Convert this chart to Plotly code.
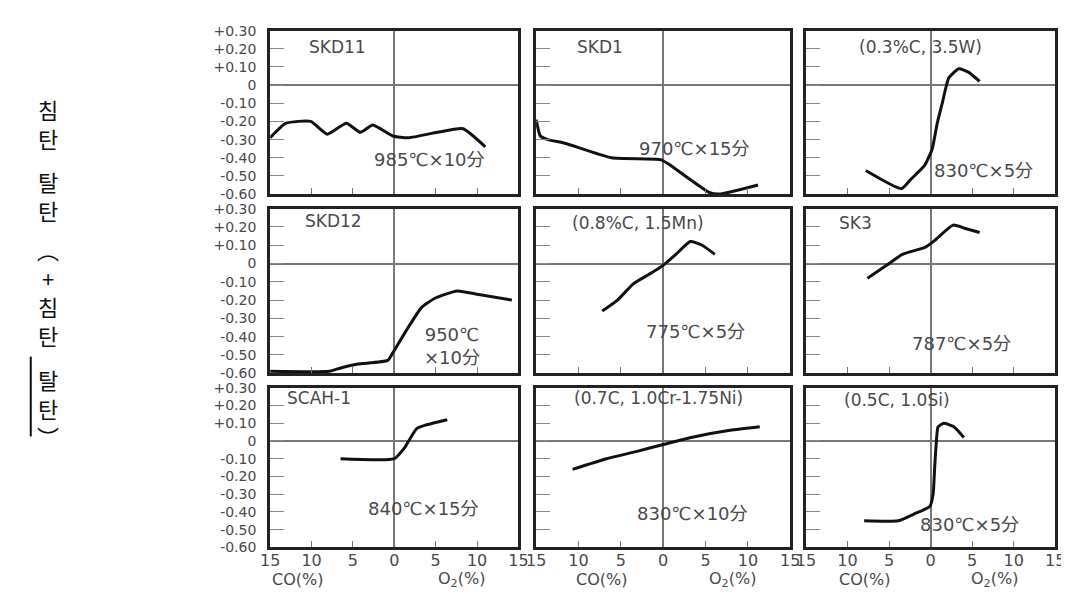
import plotly.graph_objects as go
from plotly.subplots import make_subplots

# ---------------- data (x: CO(%) negative side, O2(%) positive side) ----------------
titles = ["SKD11", "SKD1", "(0.3%C, 3.5W)",
          "SKD12", "(0.8%C, 1.5Mn)", "SK3",
          "SCAH-1", "(0.7C, 1.0Cr-1.75Ni)", "(0.5C, 1.0Si)"]
conditions = ["985℃×10分", "970℃×15分", "830℃×5分",
              "950℃<br>×10分", "775℃×5分", "787℃×5分",
              "840℃×15分", "830℃×10分", "830℃×5分"]

skd11_x = [-15, -13.1, -10.1, -8.1, -5.8, -4.1, -2.6, -0.2, 1.7, 5.2, 8.3, 11.0]
skd11_y = [-0.29, -0.21, -0.20, -0.27, -0.21, -0.26, -0.22, -0.28, -0.29, -0.26, -0.24, -0.34]

skd1_x = [-15, -14.5, -13.6, -11.6, -6.1, -0.3, 0.8, 5.4, 6.6, 11.2]
skd1_y = [-0.19, -0.28, -0.30, -0.32, -0.40, -0.41, -0.44, -0.59, -0.60, -0.55]

w35_x = [-7.8, -3.5, -2.4, -0.7, 0.2, 0.8, 1.4, 2.2, 3.4, 4.6, 5.9]
w35_y = [-0.47, -0.57, -0.52, -0.44, -0.35, -0.21, -0.10, 0.04, 0.09, 0.07, 0.02]

skd12_x = [-15, -7.9, -6.4, -4.4, -0.8, -0.2, 1.4, 3.3, 4.9, 7.6, 10.2, 14.2]
skd12_y = [-0.59, -0.59, -0.57, -0.55, -0.53, -0.49, -0.37, -0.24, -0.19, -0.15, -0.17, -0.20]

mn15_x = [-7.2, -5.4, -3.5, -1.7, 0.0, 1.5, 3.2, 4.6, 6.1]
mn15_y = [-0.26, -0.20, -0.11, -0.06, -0.01, 0.05, 0.12, 0.10, 0.05]

sk3_x = [-7.6, -5.3, -3.4, -0.6, 0.6, 2.7, 4.3, 5.9]
sk3_y = [-0.08, -0.01, 0.05, 0.09, 0.13, 0.21, 0.19, 0.17]

scah_x = [-6.5, 0.0, 1.2, 2.7, 3.8, 6.4]
scah_y = [-0.10, -0.10, -0.04, 0.07, 0.09, 0.12]

crni_x = [-10.7, -6.7, -3.2, 0.0, 3.3, 7.9, 11.4]
crni_y = [-0.16, -0.10, -0.06, -0.02, 0.02, 0.06, 0.08]

si10_x = [-8.0, -3.9, -1.9, -0.1, 0.3, 0.5, 0.7, 0.9, 1.6, 2.8, 4.0]
si10_y = [-0.45, -0.45, -0.41, -0.37, -0.30, -0.14, 0.0, 0.08, 0.10, 0.08, 0.02]

series = [(skd11_x, skd11_y), (skd1_x, skd1_y), (w35_x, w35_y),
          (skd12_x, skd12_y), (mn15_x, mn15_y), (sk3_x, sk3_y),
          (scah_x, scah_y), (crni_x, crni_y), (si10_x, si10_y)]

title_pos = [(-6.9, 0.21), (-7.5, 0.21), (-1.2, 0.21),
             (-7.3, 0.23), (-3.0, 0.22), (-9.0, 0.22),
             (-9.1, 0.24), (-0.5, 0.24), (-4.1, 0.23)]
cond_pos = [(4.3, -0.41), (3.7, -0.35), (6.4, -0.47),
            (7.0, -0.45), (3.8, -0.37), (3.7, -0.44),
            (3.5, -0.38), (3.5, -0.41), (4.7, -0.47)]

y_tickvals = [0.3, 0.2, 0.1, 0.0, -0.1, -0.2, -0.3, -0.4, -0.5, -0.6]
y_ticktext = ["+0.30", "+0.20", "+0.10", "0", "-0.10", "-0.20", "-0.30", "-0.40", "-0.50", "-0.60"]
x_tickvals = [-15, -10, -5, 0, 5, 10, 15]
x_ticktext = ["15", "10", "5", "0", "5", "10", "15"]

# ---------------- layout geometry (pixels) ----------------
W, H = 1069, 597
col_px = [(257, 510), (528, 787), (803, 1057)]
row_px = [(15, 183), (198, 367), (382, 546)]

def px_x(p):
    return p / W

def px_y(p):
    return 1 - p / H

fig = make_subplots(rows=3, cols=3)

FONT = "DejaVu Sans, Noto Sans CJK JP, sans-serif"
TXT = "#4a4a4a"

annotations = []
for i in range(9):
    r, c = divmod(i, 3)
    n = i + 1
    xs, ys = series[i]
    fig.add_trace(go.Scatter(x=xs, y=ys, mode="lines",
                             line=dict(color="#111111", width=3, shape="spline", smoothing=0.5),
                             showlegend=False, hoverinfo="skip"),
                  row=r + 1, col=c + 1)
    xa = "xaxis" if n == 1 else f"xaxis{n}"
    ya = "yaxis" if n == 1 else f"yaxis{n}"
    x0, x1 = col_px[c]
    y0, y1 = row_px[r]
    fig.layout[xa].update(
        domain=[px_x(x0), px_x(x1)], range=[-15, 15],
        showgrid=False, zeroline=True, zerolinecolor="#777777", zerolinewidth=2,
        showline=True, mirror=True, linecolor="#222222", linewidth=3,
        ticks="inside", ticklen=6, tickcolor="#777777", tickwidth=1,
        tickvals=x_tickvals, ticktext=x_ticktext,
        showticklabels=(r == 2),
        ticklabelstandoff=-4,
        tickfont=dict(family=FONT, size=16, color=TXT),
    )
    fig.layout[ya].update(
        domain=[px_y(y1), px_y(y0)], range=[-0.6, 0.3],
        showgrid=False, zeroline=True, zerolinecolor="#777777", zerolinewidth=2,
        showline=True, mirror=True, linecolor="#222222", linewidth=3,
        ticks="inside", ticklen=14, tickcolor="#888888", tickwidth=1,
        tickvals=y_tickvals, ticktext=y_ticktext,
        showticklabels=(c == 0),
        ticklabelstandoff=8,
        tickfont=dict(family=FONT, size=14, color=TXT),
    )
    xref = "x" if n == 1 else f"x{n}"
    yref = "y" if n == 1 else f"y{n}"
    tx, ty = title_pos[i]
    annotations.append(dict(x=tx, y=ty, xref=xref, yref=yref, text=titles[i],
                            showarrow=False, xanchor="center", yanchor="middle",
                            font=dict(family=FONT, size=17, color=TXT)))
    cx, cy = cond_pos[i]
    annotations.append(dict(x=cx, y=cy, xref=xref, yref=yref, text=conditions[i],
                            showarrow=False, xanchor="center", yanchor="middle",
                            font=dict(family=FONT, size=18, color=TXT)))

# bottom axis titles
co_px = [285, 595, 863]
o2_px = [452, 728, 995]
for c in range(3):
    annotations.append(dict(x=px_x(co_px[c]), y=px_y(579), xref="paper", yref="paper",
                            text="CO(%)", showarrow=False, xanchor="center", yanchor="middle",
                            font=dict(family=FONT, size=16, color=TXT)))
    annotations.append(dict(x=px_x(o2_px[c]), y=px_y(579), xref="paper", yref="paper",
                            text="O<sub>2</sub>(%)", showarrow=False, xanchor="center", yanchor="middle",
                            font=dict(family=FONT, size=16, color=TXT)))

# vertical Korean y-axis title: 침탄 탈탄 (+침탄 -탈탄)
KFONT = "Noto Sans CJK KR, sans-serif"
ytitle_groups = [("침<br>탄", 110), ("탈<br>탄", 184),
                 ("︵<br>+<br>침<br>탄", 284), ("탈<br>탄<br>︶", 402)]
for txt, cy in ytitle_groups:
    annotations.append(dict(x=px_x(31), y=px_y(cy), xref="paper", yref="paper",
                            text=txt, showarrow=False, xanchor="center", yanchor="middle",
                            font=dict(family=KFONT, size=22, color="#111111")))

fig.update_layout(
    width=W, height=H,
    margin=dict(l=0, r=0, t=0, b=0),
    paper_bgcolor="white", plot_bgcolor="white",
    annotations=annotations,
    shapes=[dict(type="line", xref="paper", yref="paper",
                 x0=px_x(13), x1=px_x(13), y0=px_y(350), y1=px_y(432),
                 line=dict(color="#111111", width=2))],
)

fig.write_html("out.html")
